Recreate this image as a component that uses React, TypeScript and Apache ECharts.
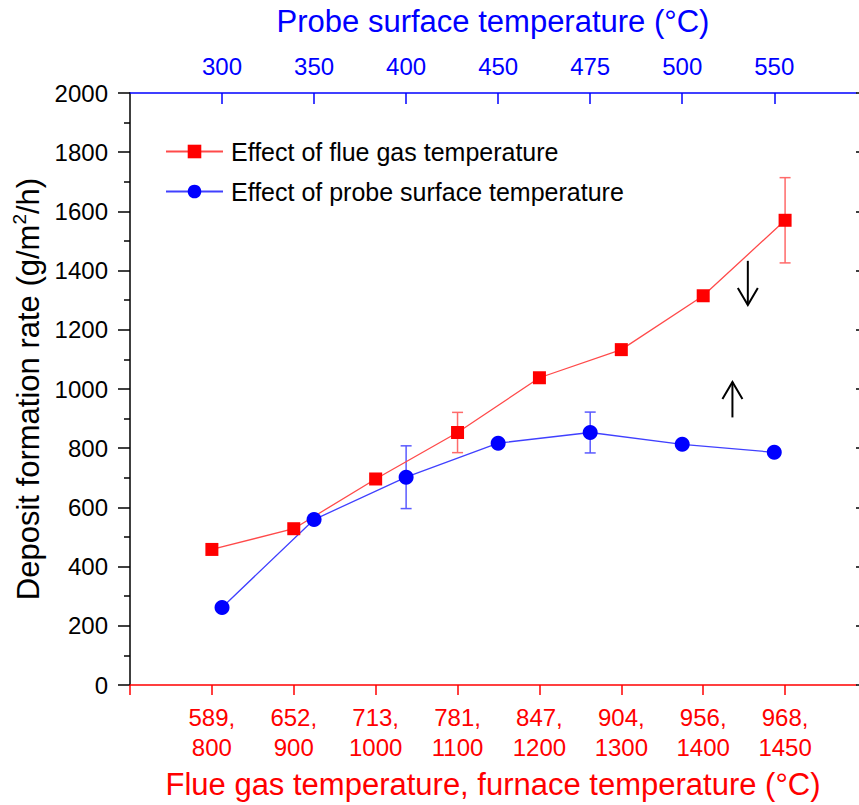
import React, { useEffect, useRef } from "react";
import * as echarts from "echarts";

const FONT = "'Liberation Sans', Arial, sans-serif";

// Bottom axis (flue gas, furnace temperature) categories at positions 1..8
const bottomLabels = ["589,\n800", "652,\n900", "713,\n1000", "781,\n1100", "847,\n1200", "904,\n1300", "956,\n1400", "968,\n1450"];
// Top axis (probe surface temperature) categories at positions 1..7
const topLabels = ["300", "350", "400", "450", "475", "500", "550"];

// Effect of flue gas temperature (red)
const redValues = [458, 528, 696, 853, 1038, 1133, 1315, 1570];
const redErrors = [0, 0, 0, 68, 0, 0, 0, 144];

// Effect of probe surface temperature (blue)
const blueValues = [262, 559, 702, 817, 853, 813, 786];
const blueErrors = [0, 0, 106, 0, 69, 0, 0];

// Annotation arrows, in bottom-axis / y-axis units: [x, from, to]
const arrowX = [7.545, 7.357];
const arrowFrom = [1433, 904];
const arrowTo = [1284, 1024];

const RED = "#ff0000";
const BLUE = "#0000ff";

function errorData(values: number[], errs: number[]) {
  const out: number[][] = [];
  values.forEach((v, i) => {
    if (errs[i] > 0) out.push([i + 1, v - errs[i], v + errs[i]]);
  });
  return out;
}

function errorRender(color: string) {
  return (params: any, api: any) => {
    const x = api.value(0);
    const lo = api.coord([x, api.value(1)]);
    const hi = api.coord([x, api.value(2)]);
    const hw = 5.5;
    const style = { stroke: color, lineWidth: 1.5 };
    return {
      type: "group",
      children: [
        { type: "line", shape: { x1: lo[0], y1: lo[1], x2: hi[0], y2: hi[1] }, style },
        { type: "line", shape: { x1: lo[0] - hw, y1: lo[1], x2: lo[0] + hw, y2: lo[1] }, style },
        { type: "line", shape: { x1: hi[0] - hw, y1: hi[1], x2: hi[0] + hw, y2: hi[1] }, style },
      ],
    };
  };
}

function arrowRender(params: any, api: any) {
  const x = api.value(0);
  const a = api.coord([x, api.value(1)]);
  const b = api.coord([x, api.value(2)]);
  const dir = b[1] > a[1] ? 1 : -1;
  const style = { stroke: "#000", lineWidth: 2, fill: "none" };
  return {
    type: "group",
    children: [
      { type: "line", shape: { x1: a[0], y1: a[1], x2: b[0], y2: b[1] }, style },
      {
        type: "polyline",
        shape: { points: [[b[0] - 10, b[1] - dir * 17], [b[0], b[1]], [b[0] + 10, b[1] - dir * 17]] },
        style,
      },
    ],
  };
}

export default function App() {
  const ref = useRef<HTMLDivElement>(null);
  useEffect(() => {
    if (!ref.current) return;
    const chart = echarts.init(ref.current, null, { renderer: "svg" });
    const option: any = {
      animation: false,
      backgroundColor: "#ffffff",
      textStyle: { fontFamily: FONT },
      grid: { left: 130, right: 3, top: 93, bottom: 117, containLabel: false },
      legend: {
        data: ["Effect of flue gas temperature", "Effect of probe surface temperature"],
        orient: "vertical",
        left: 165,
        top: 139,
        padding: 0,
        itemWidth: 57,
        itemHeight: 17,
        itemGap: 15,
        textStyle: { fontSize: 25, color: "#000", fontFamily: FONT, lineHeight: 25, padding: [0, 0, 0, 3] },
      },
      xAxis: [
        {
          type: "value",
          position: "bottom",
          min: 0,
          max: 8.866,
          interval: 1,
          axisLine: { show: true, onZero: false, lineStyle: { color: RED, width: 1.5 } },
          axisTick: { show: true, length: 10, customValues: [0, 1, 2, 3, 4, 5, 6, 7, 8], lineStyle: { color: RED, width: 1.5 } },
          axisLabel: {
            color: RED,
            fontSize: 24,
            lineHeight: 30,
            margin: 17,
            fontFamily: FONT,
            customValues: [1, 2, 3, 4, 5, 6, 7, 8],
            formatter: (v: number) => bottomLabels[Math.round(v) - 1] ?? "",
          },
          splitLine: { show: false },
          name: "Flue gas temperature, furnace temperature (°C)",
          nameLocation: "middle",
          nameGap: 84,
          nameTextStyle: { color: RED, fontSize: 31, fontFamily: FONT },
        },
        {
          type: "value",
          position: "top",
          min: 0,
          max: 7.888,
          interval: 1,
          axisLine: { show: true, onZero: false, lineStyle: { color: BLUE, width: 1.5 } },
          axisTick: { show: true, inside: true, length: 11, customValues: [1, 2, 3, 4, 5, 6, 7], lineStyle: { color: BLUE, width: 1.5 } },
          axisLabel: {
            color: BLUE,
            fontSize: 24,
            margin: 15,
            fontFamily: FONT,
            customValues: [1, 2, 3, 4, 5, 6, 7],
            formatter: (v: number) => topLabels[Math.round(v) - 1] ?? "",
          },
          splitLine: { show: false },
          name: "Probe surface temperature (°C)",
          nameLocation: "middle",
          nameGap: 56,
          nameTextStyle: { color: BLUE, fontSize: 31, fontFamily: FONT },
        },
      ],
      yAxis: [
        {
          type: "value",
          position: "left",
          min: 0,
          max: 2000,
          interval: 200,
          axisLine: { show: true, onZero: false, lineStyle: { color: "#000", width: 1.5 } },
          axisTick: { show: true, length: 12, lineStyle: { color: "#000", width: 1.5 } },
          minorTick: { show: true, splitNumber: 2, length: 6, lineStyle: { color: "#000", width: 1.5 } },
          axisLabel: { color: "#000", fontSize: 24, margin: 22, fontFamily: FONT, formatter: (v: number) => String(v) },
          splitLine: { show: false },
          minorSplitLine: { show: false },
          name: "{a|Deposit formation rate (g/m}{s|2}{a|/h)}",
          nameLocation: "middle",
          nameGap: 78,
          nameRotate: 90,
          nameTextStyle: {
            color: "#000",
            fontSize: 31,
            fontFamily: FONT,
            rich: {
              a: { fontSize: 31, fontFamily: FONT, color: "#000", lineHeight: 36 },
              s: { fontSize: 19, fontFamily: FONT, color: "#000", verticalAlign: "top", lineHeight: 36, padding: [0, 0, 14, 0] },
            },
          },
        },
        {
          type: "value",
          position: "right",
          min: 0,
          max: 2000,
          interval: 200,
          axisLine: { show: false, onZero: false },
          axisTick: { show: true, length: 4, lineStyle: { color: "#000", width: 1.5 } },
          axisLabel: { show: false },
          splitLine: { show: false },
        },
      ],
      series: [
        {
          type: "custom",
          xAxisIndex: 0,
          yAxisIndex: 0,
          z: 1,
          renderItem: errorRender("#ff6a6a"),
          encode: { x: 0, y: [1, 2] },
          data: errorData(redValues, redErrors),
          silent: true,
        },
        {
          type: "custom",
          xAxisIndex: 1,
          yAxisIndex: 0,
          z: 1,
          renderItem: errorRender("#5a5aff"),
          encode: { x: 0, y: [1, 2] },
          data: errorData(blueValues, blueErrors),
          silent: true,
        },
        {
          name: "Effect of flue gas temperature",
          type: "line",
          xAxisIndex: 0,
          yAxisIndex: 0,
          z: 3,
          data: redValues.map((v, i) => [i + 1, v]),
          symbol: "rect",
          symbolSize: 13,
          lineStyle: { color: "#ff4a4a", width: 1.3 },
          itemStyle: { color: RED },
        },
        {
          name: "Effect of probe surface temperature",
          type: "line",
          xAxisIndex: 1,
          yAxisIndex: 0,
          z: 3,
          data: blueValues.map((v, i) => [i + 1, v]),
          symbol: "circle",
          symbolSize: 15,
          lineStyle: { color: "#4040ff", width: 1.3 },
          itemStyle: { color: BLUE },
        },
        {
          type: "custom",
          xAxisIndex: 0,
          yAxisIndex: 0,
          z: 2,
          renderItem: arrowRender,
          encode: { x: 0, y: [1, 2] },
          data: arrowX.map((x, i) => [x, arrowFrom[i], arrowTo[i]]),
          silent: true,
        },
      ],
    };
    chart.setOption(option);
    return () => chart.dispose();
  }, []);
  return (
    <div
      ref={ref}
      style={{ position: "fixed", left: 0, top: 0, width: 859, height: 805, background: "#fff" }}
    />
  );
}
